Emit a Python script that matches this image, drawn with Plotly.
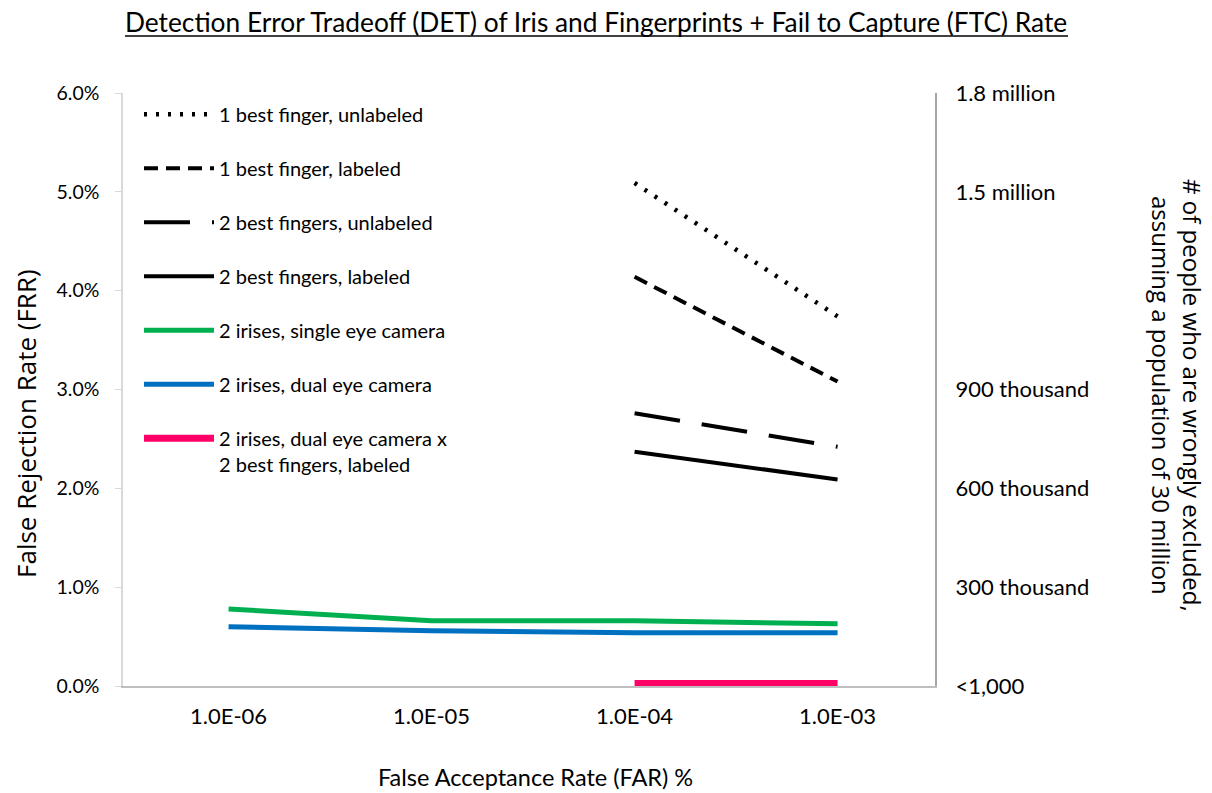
import plotly.graph_objects as go

far_labels = ["1.0E-06", "1.0E-05", "1.0E-04", "1.0E-03"]

finger1_unlabeled = [None, None, 5.09, 3.74]
finger1_labeled = [None, None, 4.14, 3.08]
finger2_unlabeled = [None, None, 2.76, 2.42]
finger2_labeled = [None, None, 2.37, 2.09]
iris_single = [0.78, 0.66, 0.66, 0.63]
iris_dual = [0.60, 0.56, 0.54, 0.54]
iris_dual_x_fingers = [None, None, 0.025, 0.025]

left_tickvals = [0, 1, 2, 3, 4, 5, 6]
left_ticktext = ["0.0%", "1.0%", "2.0%", "3.0%", "4.0%", "5.0%", "6.0%"]
right_tickvals = [0, 1, 2, 3, 5, 6]
right_ticktext = ["<1,000", "300 thousand", "600 thousand", "900 thousand",
                  "1.5 million", "1.8 million"]

FONT = "Lato"
FONT2 = "Open Sans"

series = [
    ("1 best finger, unlabeled", finger1_unlabeled, "black", 4.5, "3px,9px"),
    ("1 best finger, labeled", finger1_labeled, "black", 4, "14px,8px"),
    ("2 best fingers, unlabeled", finger2_unlabeled, "black", 4, "46px,22px"),
    ("2 best fingers, labeled", finger2_labeled, "black", 4, "solid"),
    ("2 irises, single eye camera", iris_single, "#00B050", 5, "solid"),
    ("2 irises, dual eye camera", iris_dual, "#0070C0", 5, "solid"),
    ("2 irises, dual eye camera x<br>2 best fingers, labeled", iris_dual_x_fingers, "#FF0066", 7, "solid"),
]

fig = go.Figure()
for i, (name, vals, color, w, dash) in enumerate(series):
    fig.add_trace(go.Scatter(
        x=far_labels, y=vals, name=name, mode="lines",
        line=dict(color=color, width=w, dash=dash),
        legendgroup=f"g{i}", cliponaxis=False, connectgaps=False,
    ))

# invisible trace for right axis
fig.add_trace(go.Scatter(x=far_labels, y=[None] * 4, yaxis="y2",
                         showlegend=False, hoverinfo="skip"))

fig.update_layout(
    width=1204, height=785,
    margin=dict(l=115, r=277, t=85, b=107),
    paper_bgcolor="white", plot_bgcolor="white",
    font=dict(family=FONT, size=18, color="black"),
    xaxis=dict(
        type="category", range=[-0.52, 3.48], showgrid=False, zeroline=False,
        showline=True, linecolor="#BFBFBF", linewidth=1.5, ticks="",
        tickfont=dict(size=22), ticklabelstandoff=10, automargin=False,
    ),
    yaxis=dict(
        range=[0, 6], tickvals=left_tickvals, ticktext=left_ticktext,
        showgrid=False, zeroline=False, showline=True, linecolor="#D9D9D9",
        linewidth=1.5, ticks="outside", ticklen=6, tickcolor="#D9D9D9",
        tickfont=dict(size=19.5), ticklabelstandoff=12, automargin=False,
    ),
    yaxis2=dict(
        overlaying="y", side="right", range=[0, 6], tickvals=right_tickvals,
        ticktext=right_ticktext, showgrid=False, zeroline=False, showline=True,
        linecolor="#A6A6A6", linewidth=2, ticks="", ticklabelstandoff=14,
        tickfont=dict(size=22), automargin=False,
    ),
    legend=dict(
        x=0.0197, y=0.997, xanchor="left", yanchor="top",
        font=dict(family=FONT, size=20, color="black"),
        bgcolor="rgba(0,0,0,0)", tracegroupgap=25, itemwidth=70,
        valign="top", traceorder="grouped",
    ),
    showlegend=True,
)

# chart title with underline
fig.add_annotation(
    text="Detection Error Tradeoff (DET) of Iris and Fingerprints + Fail to Capture (FTC) Rate",
    xref="paper", yref="paper", x=0.582, y=1.12,
    xanchor="center", yanchor="middle", showarrow=False,
    font=dict(family=FONT, size=26.3, color="black"),
)
fig.add_shape(type="line", xref="paper", yref="paper",
              x0=0.0025, x1=1.1638, y0=1.0961, y1=1.0961,
              line=dict(color="black", width=1.5))

fig.add_annotation(
    text="False Acceptance Rate (FAR) %",
    xref="paper", yref="paper", x=0.5086, y=-0.1535,
    xanchor="center", yanchor="middle", showarrow=False,
    font=dict(family=FONT, size=23.5, color="black"),
)

fig.add_annotation(
    text="False Rejection Rate (FRR)",
    textangle=-90, xref="paper", yref="paper", x=-0.1195, y=0.4435,
    xanchor="center", yanchor="middle", showarrow=False,
    font=dict(family=FONT2, size=26, color="black"),
)

fig.add_annotation(
    text="# of people who are wrongly excluded,<br>assuming a population of 30 million",
    textangle=90, xref="paper", yref="paper", x=1.298, y=0.489,
    xanchor="center", yanchor="middle", showarrow=False,
    font=dict(family=FONT2, size=24, color="black"),
)

fig.write_html("out.html")
